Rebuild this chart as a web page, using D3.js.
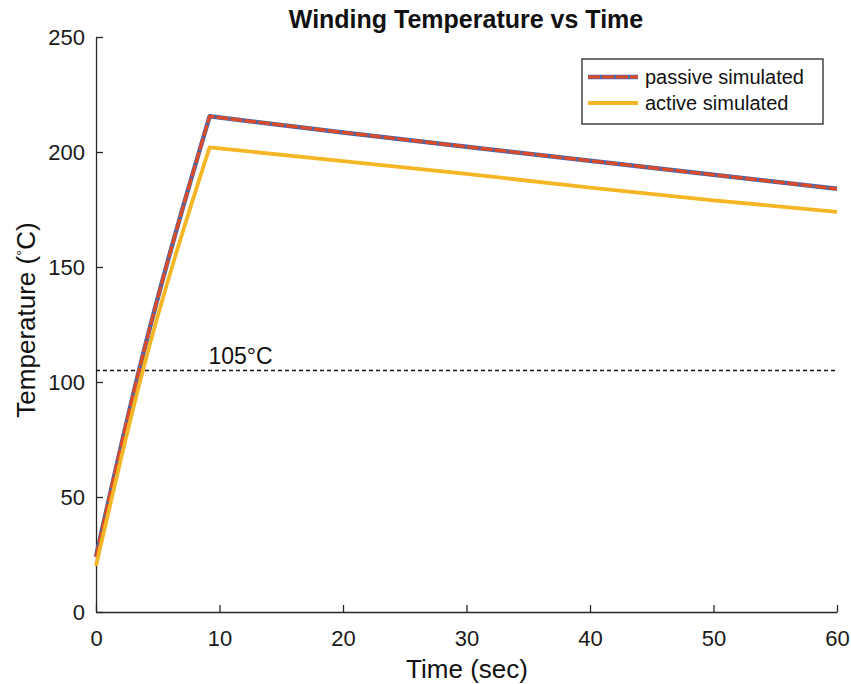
<!DOCTYPE html>
<html>
<head>
<meta charset="utf-8">
<script src="https://cdn.jsdelivr.net/npm/d3@7/dist/d3.min.js"></script>
<style>
  html, body { margin: 0; padding: 0; background: #fff; }
  svg { display: block; font-family: "Liberation Sans", Arial, sans-serif; }
</style>
</head>
<body>
<svg id="chart" width="851" height="684"></svg>
<script>
// Winding temperature over time for the passive and active cases
const passiveRiseTime = [0, 3.3, 9.2];
const passiveRiseTemp = [24, 101, 215.5];
const passiveFallTime = [9.2, 20, 30, 40, 50, 60];
const passiveFallTemp = [215.5, 208.5, 202.3, 196.2, 190.1, 184];
const activeRiseTime  = [0, 3.6, 9.2];
const activeRiseTemp  = [20, 101, 202];
const activeFallTime  = [9.2, 20, 30, 40, 50, 60];
const activeFallTemp  = [202, 196, 190.5, 184.5, 179, 174];
const limitTemp   = 105;
const xTicks = [0, 10, 20, 30, 40, 50, 60];
const yTicks = [0, 50, 100, 150, 200, 250];
const seriesNames = ["passive simulated", "active simulated"];

const svg = d3.select("#chart");
const plot = { left: 96, right: 837, top: 37, bottom: 612 };

const x = d3.scaleLinear().domain([0, 60]).range([plot.left, plot.right]);
const y = d3.scaleLinear().domain([0, 250]).range([plot.bottom, plot.top]);

const axisColor = "#262626";
const blue = "#4468b0", red = "#dc4a26", gold = "#f5b625";

// Axes with inward ticks
const xAxis = svg.append("g")
  .attr("transform", `translate(0,${plot.bottom})`)
  .call(d3.axisBottom(x).tickValues(xTicks).tickSizeInner(-7).tickSizeOuter(0).tickPadding(14));
const yAxis = svg.append("g")
  .attr("transform", `translate(${plot.left},0)`)
  .call(d3.axisLeft(y).tickValues(yTicks).tickSizeInner(-7).tickSizeOuter(0).tickPadding(11));

[xAxis, yAxis].forEach(g => {
  g.select(".domain").attr("stroke", axisColor).attr("stroke-width", 1.3);
  g.selectAll(".tick line").attr("stroke", axisColor).attr("stroke-width", 1.3);
  g.selectAll(".tick text")
    .attr("fill", "#1a1a1a")
    .style("font-size", "22px")
    .style("font-family", "'Liberation Sans', Arial, sans-serif");
});
xAxis.selectAll(".tick text").attr("dy", "0.9em");

// Reference line at the 105 °C limit
svg.append("line")
  .attr("x1", x(0)).attr("x2", x(60))
  .attr("y1", y(limitTemp)).attr("y2", y(limitTemp))
  .attr("stroke", "#111").attr("stroke-width", 1.6)
  .attr("stroke-dasharray", "4,3");
svg.append("text")
  .attr("x", x(9.1)).attr("y", y(limitTemp) - 7)
  .attr("fill", "#111").style("font-size", "23px")
  .text(limitTemp + "°C");

// Smooth concave heating segment joined to a straight cooling segment
const riseLine = d3.line().x(d => x(d[0])).y(d => y(d[1])).curve(d3.curveMonotoneX);
const fallLine = d3.line().x(d => x(d[0])).y(d => y(d[1]));
function curvePath(rt, rv, ft, fv) {
  const rise = rt.map((t, i) => [t, rv[i]]);
  const fall = ft.map((t, i) => [t, fv[i]]);
  return riseLine(rise) + fallLine(fall).replace(/^M/, "L");
}
const passivePath = curvePath(passiveRiseTime, passiveRiseTemp, passiveFallTime, passiveFallTemp);
const activePath = curvePath(activeRiseTime, activeRiseTemp, activeFallTime, activeFallTemp);

// Passive curve: blue line overlaid by a dashed red line
svg.append("path").attr("d", passivePath)
  .attr("fill", "none").attr("stroke", blue).attr("stroke-width", 4.5)
  .attr("stroke-linejoin", "round");
svg.append("path").attr("d", passivePath)
  .attr("fill", "none").attr("stroke", red).attr("stroke-width", 3.2)
  .attr("stroke-dasharray", "12,2").attr("stroke-linejoin", "round");

// Active curve
svg.append("path").attr("d", activePath)
  .attr("fill", "none").attr("stroke", gold).attr("stroke-width", 3.8)
  .attr("stroke-linejoin", "round");

// Title and axis labels
svg.append("text")
  .attr("x", 466).attr("y", 28)
  .attr("text-anchor", "middle")
  .style("font-size", "25px").style("font-weight", "bold")
  .attr("fill", "#111")
  .text("Winding Temperature vs Time");

svg.append("text")
  .attr("x", 467).attr("y", 678)
  .attr("text-anchor", "middle")
  .style("font-size", "26px").attr("fill", "#111")
  .text("Time (sec)");

const yl = svg.append("text")
  .attr("transform", "translate(35,320) rotate(-90)")
  .attr("text-anchor", "middle")
  .style("font-size", "26px").attr("fill", "#111");
yl.append("tspan").text("Temperature (");
yl.append("tspan").attr("baseline-shift", "super").style("font-size", "15px").text("°");
yl.append("tspan").text("C)");

// Legend
const legend = svg.append("g");
legend.append("rect")
  .attr("x", 582).attr("y", 59).attr("width", 241).attr("height", 65)
  .attr("fill", "#fff").attr("stroke", "#262626").attr("stroke-width", 1.3);
const rowY = [77, 103];
// passive sample
legend.append("line").attr("x1", 588).attr("x2", 638).attr("y1", rowY[0]).attr("y2", rowY[0])
  .attr("stroke", blue).attr("stroke-width", 4.5);
legend.append("line").attr("x1", 588).attr("x2", 638).attr("y1", rowY[0]).attr("y2", rowY[0])
  .attr("stroke", red).attr("stroke-width", 3.2).attr("stroke-dasharray", "12,2");
// active sample
legend.append("line").attr("x1", 588).attr("x2", 638).attr("y1", rowY[1]).attr("y2", rowY[1])
  .attr("stroke", gold).attr("stroke-width", 3.8);
seriesNames.forEach((name, i) => {
  legend.append("text")
    .attr("x", 645).attr("y", rowY[i] + 7)
    .style("font-size", "20px").attr("fill", "#111")
    .text(name);
});
</script>
</body>
</html>
